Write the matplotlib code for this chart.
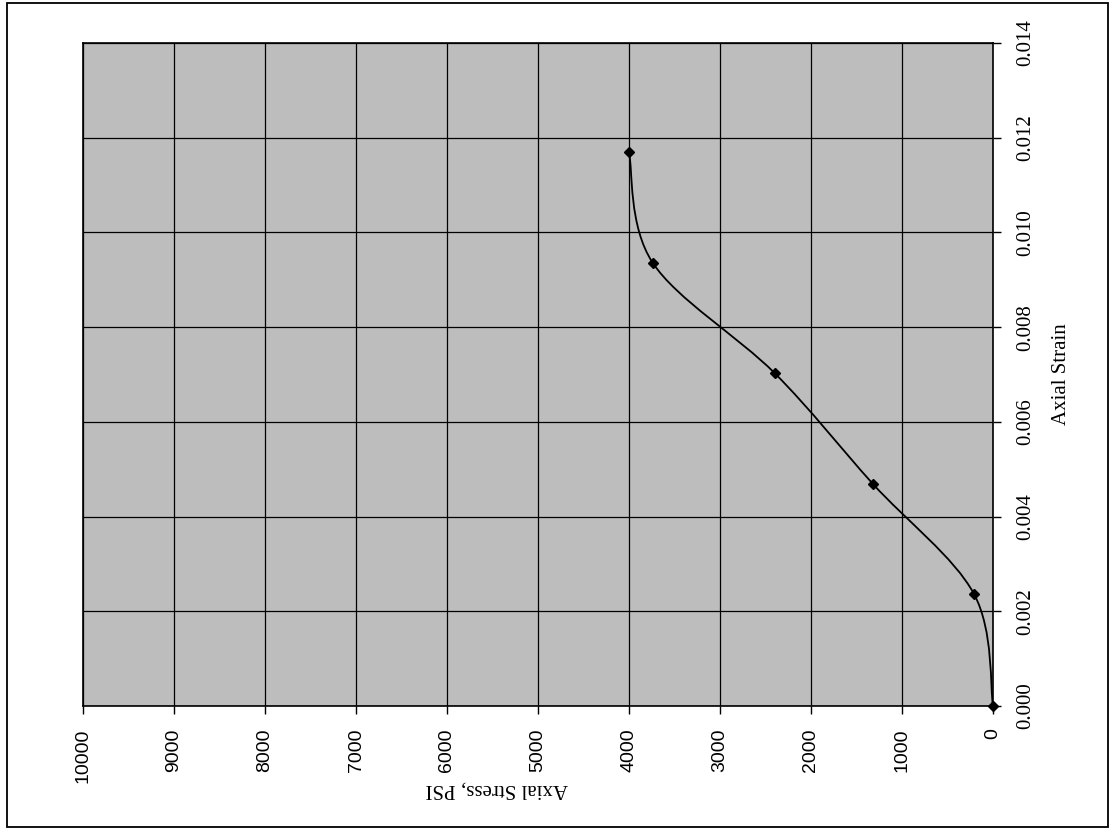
import numpy as np
import matplotlib
matplotlib.use("Agg")
import matplotlib.pyplot as plt
from matplotlib.path import Path
from matplotlib.patches import PathPatch, Rectangle

# Data (page is rotated: stress runs right-to-left along the bottom, strain bottom-to-top on the right)
axial_strain = [0.0, 0.00237, 0.00469, 0.00703, 0.00936, 0.0117]
axial_stress = [0, 210, 1320, 2400, 3740, 4000]
stress_ticks = [10000, 9000, 8000, 7000, 6000, 5000, 4000, 3000, 2000, 1000, 0]
strain_ticks = [0.000, 0.002, 0.004, 0.006, 0.008, 0.010, 0.012, 0.014]

W, H = 1110, 830
fig = plt.figure(figsize=(W / 100, H / 100), dpi=100)
fig.patch.set_facecolor("white")

# outer page frame
fig.patches.append(Rectangle((7 / W, 3 / H), (1108 - 7) / W, (827 - 3) / H,
                             transform=fig.transFigure, fill=False,
                             edgecolor="black", linewidth=1.3))

left, right, top, bottom = 83, 993, 43, 706
ax = fig.add_axes([left / W, 1 - bottom / H, (right - left) / W, (bottom - top) / H])
ax.set_facecolor("#bdbdbd")

ax.set_xlim(10000, 0)
ax.set_ylim(0, 0.014)
ax.set_xticks(stress_ticks)
ax.set_xticklabels([str(v) for v in stress_ticks], rotation=90,
                   fontfamily="Liberation Sans", fontsize=14)
ax.yaxis.tick_right()
ax.set_yticks(strain_ticks)
ax.set_yticklabels([f"{v:.3f}" for v in strain_ticks], rotation=90,
                   fontfamily="Liberation Serif", fontsize=15, va="center")
ax.tick_params(axis="x", direction="out", length=6, width=1, pad=10, colors="black")
ax.tick_params(axis="y", direction="out", length=6, width=1, pad=11, colors="black")

ax.grid(True, color="black", linewidth=0.9)
ax.set_axisbelow(True)
for s in ax.spines.values():
    s.set_color("black")
    s.set_linewidth(1.2)

# smooth (Excel-style) curve through the points
pts = np.column_stack([axial_stress, axial_strain]).astype(float)
n = len(pts)
verts = [pts[0]]
codes = [Path.MOVETO]
for i in range(n - 1):
    p0 = pts[max(i - 1, 0)]
    p1 = pts[i]
    p2 = pts[i + 1]
    p3 = pts[min(i + 2, n - 1)]
    c1 = p1 + (p2 - p0) / 6.0
    c2 = p2 - (p3 - p1) / 6.0
    verts += [c1, c2, p2]
    codes += [Path.CURVE4] * 3
ax.add_patch(PathPatch(Path(verts, codes), fill=False, lw=1.3,
                       edgecolor="black", zorder=3))
ax.plot(axial_stress, axial_strain, linestyle="none", marker="D",
        markersize=5.5, color="black", zorder=4, clip_on=False)

ax.set_xlabel("Axial Stress, PSI", rotation=180, fontfamily="Liberation Serif",
              fontsize=15)
ax.xaxis.set_label_coords(0.455, -0.125)
ax.xaxis.label.set_verticalalignment("center")
ax.xaxis.label.set_horizontalalignment("center")

ax.yaxis.set_label_position("right")
ax.set_ylabel("Axial Strain", rotation=90, fontfamily="Liberation Serif",
              fontsize=15)
ax.yaxis.set_label_coords(1.075, 0.5)
ax.yaxis.label.set_verticalalignment("center")
ax.yaxis.label.set_horizontalalignment("center")

fig.savefig("out.png", dpi=100)
